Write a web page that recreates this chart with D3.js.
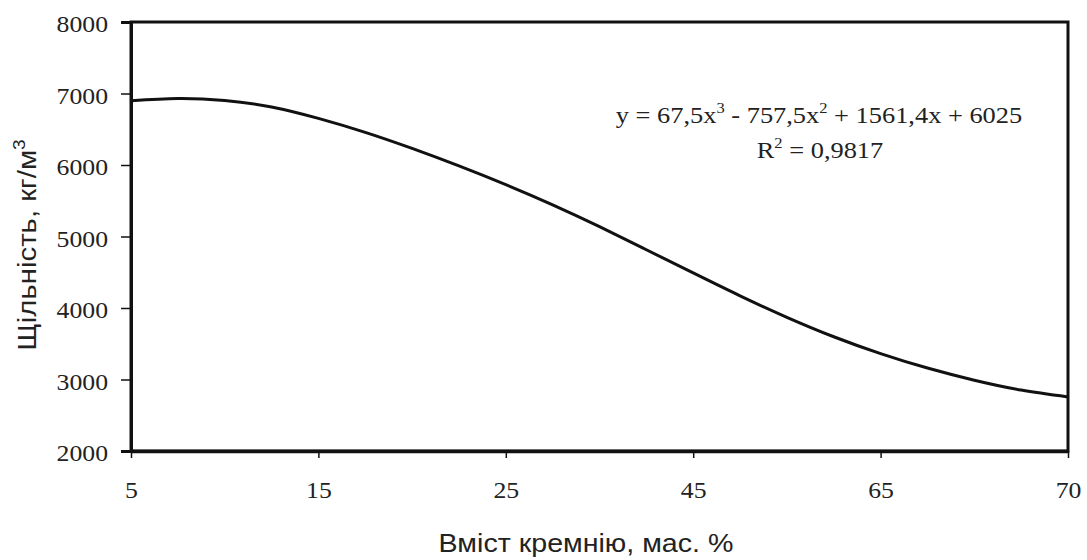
<!DOCTYPE html>
<meta charset="utf-8">
<style>
  body { margin: 0; background: #fff; }
  .tick line { stroke: #111; stroke-width: 1.5px; }
  .tick text { font-family: "Liberation Serif", "Times New Roman", serif; font-size: 23px; fill: #222; }
  .title { font-family: "Liberation Sans", Arial, sans-serif; font-size: 26px; fill: #222; }
  .eq { font-family: "Liberation Serif", "Times New Roman", serif; font-size: 24px; fill: #222; }
</style>
<svg width="1087" height="560"></svg>
<script src="https://d3js.org/d3.v7.min.js"></script>
<script>

// categories on the x axis (equally spaced)
var categories = ["5", "15", "25", "45", "65", "70"];
var yTicks = [2000, 3000, 4000, 5000, 6000, 7000, 8000];

// trend line, position in category steps from the first one
var trendPos = [0, 0.25, 0.5, 0.75, 1, 1.25, 1.5, 1.75, 2, 2.25, 2.5, 2.75, 3, 3.25, 3.5, 3.75, 4, 4.25, 4.5, 4.75, 5];
var trendVal = [6898, 6930, 6902, 6812, 6652, 6457, 6232, 5987, 5725, 5443, 5138, 4815, 4490, 4170, 3870, 3598, 3362, 3160, 2990, 2852, 2756];

var svg = d3.select("svg");
var plotL = 131, plotR = 1068, plotT = 22, plotB = 451;
var sx = 1.12; // the picture is a bit wider than tall, stretch text to match

var x = d3.scalePoint().domain(categories).range([plotL, plotR]);
var xt = d3.scaleLinear().domain([0, categories.length - 1]).range([plotL, plotR]);
var y = d3.scaleLinear().domain([2000, 8000]).range([plotB, plotT]);

// plot frame
svg.append("rect")
    .attr("x", plotL).attr("y", plotT)
    .attr("width", plotR - plotL).attr("height", plotB - plotT)
    .attr("fill", "none").attr("stroke", "#111").attr("stroke-width", 3);

// y axis
var gy = svg.append("g")
    .attr("transform", "translate(" + plotL + ",0)")
    .call(d3.axisLeft(y).tickValues(yTicks).tickSize(10).tickFormat(d3.format("d")));
gy.select(".domain").attr("stroke", "#111").attr("stroke-width", 3);
gy.selectAll(".tick text")
    .attr("x", -23 / sx).attr("dy", "0.42em")
    .attr("transform", "scale(" + sx + ",1)");

// x axis
var gx = svg.append("g")
    .attr("transform", "translate(0," + plotB + ")")
    .call(d3.axisBottom(x).tickSize(7).tickSizeOuter(0));
gx.select(".domain").attr("stroke", "#111").attr("stroke-width", 3.5);
gx.selectAll(".tick text")
    .attr("y", 47).attr("dy", 0).attr("x", 0)
    .attr("transform", "scale(" + sx + ",1)");

// trend line
var line = d3.line()
    .x(function(d, i) { return xt(trendPos[i]); })
    .y(function(d) { return y(d); })
    .curve(d3.curveNatural);

svg.append("path")
    .datum(trendVal)
    .attr("fill", "none")
    .attr("stroke", "#111")
    .attr("stroke-width", 3)
    .attr("d", line);

// equation
var eq = svg.append("text").attr("class", "eq")
    .attr("text-anchor", "middle")
    .attr("transform", "translate(819,123) scale(1.1,1)");
eq.append("tspan").text("y = 67,5x");
eq.append("tspan").attr("font-size", 15).attr("dy", -10).text("3");
eq.append("tspan").attr("dy", 10).text(" - 757,5x");
eq.append("tspan").attr("font-size", 15).attr("dy", -10).text("2");
eq.append("tspan").attr("dy", 10).text(" + 1561,4x + 6025");

var r2 = svg.append("text").attr("class", "eq")
    .attr("text-anchor", "middle")
    .attr("transform", "translate(820,158) scale(1.1,1)");
r2.append("tspan").text("R");
r2.append("tspan").attr("font-size", 15).attr("dy", -10).text("2");
r2.append("tspan").attr("dy", 10).text(" = 0,9817");

// axis titles
svg.append("text").attr("class", "title")
    .attr("text-anchor", "middle")
    .attr("transform", "translate(586,552) scale(1.1,1)")
    .text("Вміст кремнію, мас. %");

var yt = svg.append("text").attr("class", "title")
    .attr("text-anchor", "middle")
    .attr("transform", "translate(36,245) rotate(-90) scale(1.13,1)");
yt.append("tspan").text("Щільність, кг/м");
yt.append("tspan").attr("font-size", 17).attr("dy", -11).text("3");

</script>
